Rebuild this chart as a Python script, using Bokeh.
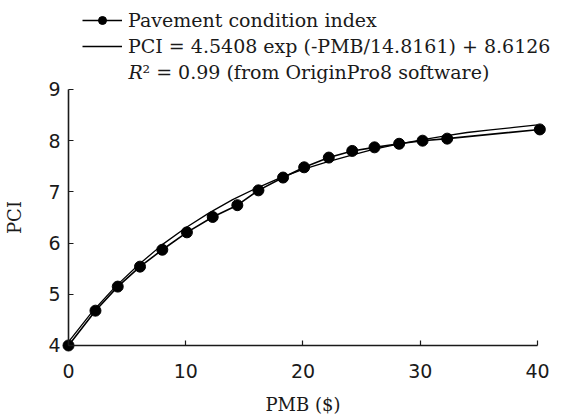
from bokeh.plotting import figure
from bokeh.models import Range1d, LinearAxis, FixedTicker, Legend, LegendItem, Label
from bokeh.embed import file_html
from bokeh.resources import INLINE

pmb = [0, 2.3, 4.2, 6.1, 8.0, 10.1, 12.3, 14.4, 16.2, 18.3, 20.1, 22.2, 24.2, 26.1, 28.2, 30.2, 32.3, 40.2]
pci = [4.0, 4.68, 5.15, 5.54, 5.87, 6.21, 6.51, 6.74, 7.03, 7.28, 7.48, 7.67, 7.80, 7.87, 7.94, 8.00, 8.04, 8.22]

# Fitted curve
fit_pmb = [0, 2, 4, 6, 8, 10, 12, 14, 16, 18, 20, 22, 24, 26, 28, 30, 32, 34, 36, 38, 40]
fit_pci = [4.07, 4.65, 5.15, 5.58, 5.97, 6.30, 6.59, 6.85, 7.07, 7.27, 7.44, 7.58, 7.71, 7.83, 7.93, 8.01, 8.09, 8.16, 8.21, 8.26, 8.31]

x_ticks = [0, 10, 20, 30, 40]
y_ticks = [4, 5, 6, 7, 8, 9]

SERIF = "DejaVu Serif"
SANS = "DejaVu Sans"

p = figure(width=582, height=416, x_range=Range1d(-5.80, 43.84), y_range=Range1d(2.613, 10.738),
           output_backend="svg", toolbar_location=None, x_axis_type=None, y_axis_type=None,
           min_border=0, title=None)
p.outline_line_color = None
p.background_fill_color = "white"
p.border_fill_color = "white"

xaxis = LinearAxis(fixed_location=4, bounds=(0, 40), ticker=FixedTicker(ticks=x_ticks), axis_label="PMB ($)")
yaxis = LinearAxis(fixed_location=0, bounds=(4, 9), ticker=FixedTicker(ticks=y_ticks), axis_label="PCI")
for ax in (xaxis, yaxis):
    ax.axis_line_width = 1.6
    ax.axis_line_color = "#1a1a1a"
    ax.major_tick_in = 5
    ax.major_tick_out = 0
    ax.major_tick_line_color = "#1a1a1a"
    ax.major_tick_line_width = 1.2
    ax.minor_tick_line_color = None
    ax.major_label_text_font = SANS
    ax.major_label_text_font_size = "19px"
    ax.major_label_text_color = "#1a1a1a"
    ax.axis_label_text_font = SERIF
    ax.axis_label_text_font_size = "18px"
    ax.axis_label_text_font_style = "normal"
    ax.axis_label_text_color = "#1a1a1a"
xaxis.major_label_standoff = 19
xaxis.axis_label_standoff = 12
yaxis.major_label_standoff = 8
yaxis.axis_label_standoff = 20
p.add_layout(xaxis, "below")
p.add_layout(yaxis, "left")

fit = p.line(fit_pmb, fit_pci, line_color="black", line_width=1.3)
dline = p.line(pmb, pci, line_color="black", line_width=1.6)
dpts = p.scatter(pmb, pci, size=11, fill_color="black", line_color="black")

legend = Legend(items=[
    LegendItem(label="Pavement condition index", renderers=[dline, dpts]),
    LegendItem(label="PCI = 4.5408 exp (-PMB/14.8161) + 8.6126", renderers=[fit]),
], location=(82, 359))
legend.glyph_width = 40
legend.glyph_height = 20
legend.label_height = 20
legend.spacing = 4
legend.padding = 0
legend.margin = 0
legend.label_standoff = 6
legend.border_line_color = None
legend.background_fill_alpha = 0
legend.label_text_font = SERIF
legend.label_text_font_size = "19px"
legend.label_text_color = "#1a1a1a"
p.add_layout(legend, "center")

r_label = Label(x=128, y=416 - 71, x_units="screen", y_units="screen", text="R",
                text_font=SERIF, text_font_style="italic", text_font_size="19px",
                text_color="#1a1a1a", text_baseline="middle")
r_rest = Label(x=142, y=416 - 71, x_units="screen", y_units="screen",
               text="\u00b2 = 0.99 (from OriginPro8 software)",
               text_font=SERIF, text_font_size="19px", text_color="#1a1a1a", text_baseline="middle")
p.add_layout(r_label)
p.add_layout(r_rest)

open("out.html", "w").write(file_html(p, INLINE))
